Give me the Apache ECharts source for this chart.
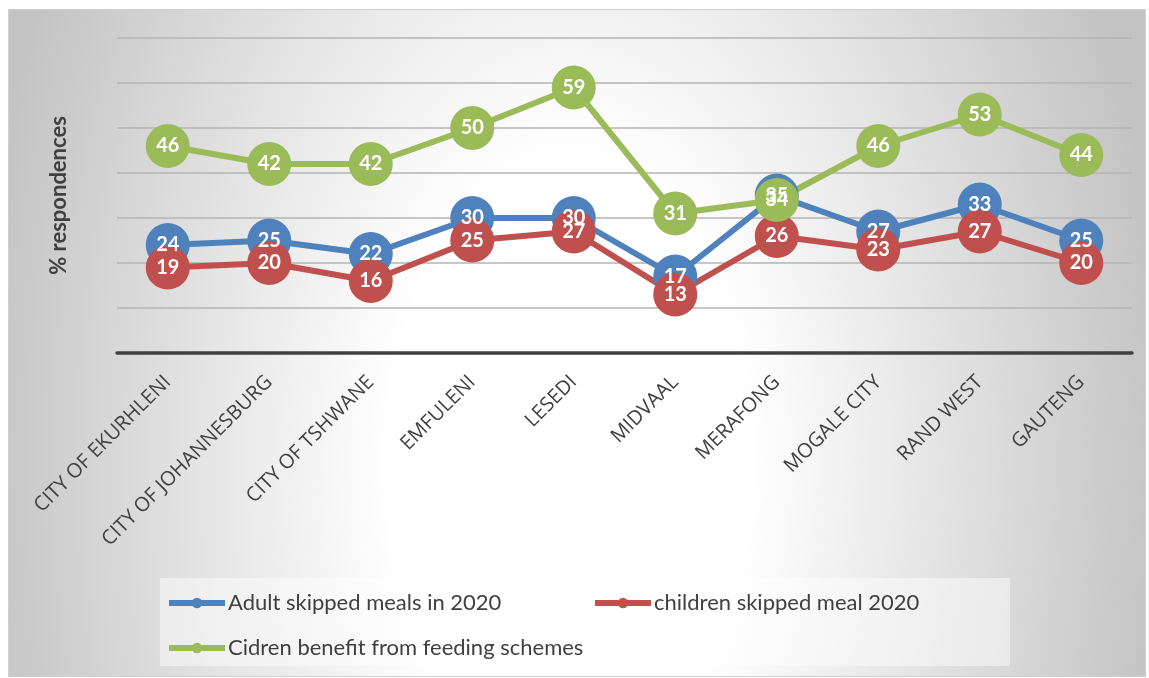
<!DOCTYPE html>
<html>
<head>
<meta charset="utf-8">
<script src="https://cdn.jsdelivr.net/npm/echarts@6/dist/echarts.min.js"></script>
<style>
  html, body { margin: 0; padding: 0; background: #ffffff; }
  #bg { position: absolute; left: 8px; top: 9px; width: 1136px; height: 666px;
        border: 1px solid #cfcfcf;
        background: radial-gradient(ellipse 600px 1000px at 560px 450px, #ffffff 0%, #ffffff 30%, #c3c3c3 100%); }
  #chart { position: absolute; left: 0; top: 0; width: 1149px; height: 678px; }
</style>
</head>
<body>
<div id="bg"></div>
<div id="chart"></div>
<script>
const categories = ['CITY OF EKURHLENI', 'CITY OF JOHANNESBURG', 'CITY OF TSHWANE', 'EMFULENI', 'LESEDI', 'MIDVAAL', 'MERAFONG', 'MOGALE CITY', 'RAND WEST', 'GAUTENG'];
const adultSkipped = [24, 25, 22, 30, 30, 17, 35, 27, 33, 25];
const childrenSkipped = [19, 20, 16, 25, 27, 13, 26, 23, 27, 20];
const feedingSchemes = [46, 42, 42, 50, 59, 31, 34, 46, 53, 44];
const seriesNames = ['Adult skipped meals in 2020', 'children skipped meal 2020', 'Cidren benefit from feeding schemes'];
const yAxisTitle = '% respondences';

const chart = echarts.init(document.getElementById('chart'), null, { renderer: 'canvas' });

function lineSeries(name, data, color) {
  return {
    name: name,
    type: 'line',
    data: data,
    symbol: 'circle',
    symbolSize: 44,
    lineStyle: { color: color, width: 6 },
    itemStyle: { color: color },
    label: {
      show: true, position: 'inside', color: '#ffffff',
      fontFamily: 'Lato', fontWeight: 'bold', fontSize: 20
    },
    emphasis: { disabled: true },
    animation: false
  };
}

const legendCommon = {
  orient: 'horizontal', padding: 0, itemWidth: 56, itemHeight: 13, itemGap: 0,
  lineStyle: { width: 6 },
  textStyle: { fontFamily: 'Lato', fontSize: 22, color: '#404040', padding: [0, 0, 0, -2] },
  selectedMode: false
};

chart.setOption({
  backgroundColor: 'transparent',
  animation: false,
  graphic: [{
    type: 'rect', z: -10,
    shape: { x: 160, y: 578, width: 850, height: 88 },
    style: { fill: 'rgba(255,255,255,0.45)' }
  }],
  grid: { left: 117, right: 17, top: 38, bottom: 325, containLabel: false },
  legend: [
    Object.assign({ data: [seriesNames[0]], left: 166, top: 592 }, legendCommon),
    Object.assign({ data: [seriesNames[1]], left: 592, top: 592 }, legendCommon),
    Object.assign({ data: [seriesNames[2]], left: 166, top: 637 }, legendCommon)
  ],
  xAxis: {
    type: 'category',
    data: categories,
    boundaryGap: true,
    axisLine: { lineStyle: { color: '#404040', width: 3.5 } },
    axisTick: { show: false },
    axisLabel: {
      rotate: 45, margin: 26, interval: 0,
      fontFamily: 'Open Sans', fontSize: 20, color: '#404040'
    }
  },
  yAxis: {
    type: 'value', min: 0, max: 70, interval: 10,
    name: yAxisTitle, nameLocation: 'middle', nameGap: 47,
    nameTextStyle: { fontFamily: 'Lato', fontWeight: 'bold', fontSize: 22, color: '#404040' },
    axisLine: { show: false },
    axisTick: { show: false },
    axisLabel: { show: false },
    splitLine: { lineStyle: { color: '#b5b5b5', width: 1.5 } }
  },
  series: [
    lineSeries(seriesNames[0], adultSkipped, '#4F81BD'),
    lineSeries(seriesNames[1], childrenSkipped, '#C0504D'),
    lineSeries(seriesNames[2], feedingSchemes, '#9BBB59')
  ]
});
</script>
</body>
</html>
